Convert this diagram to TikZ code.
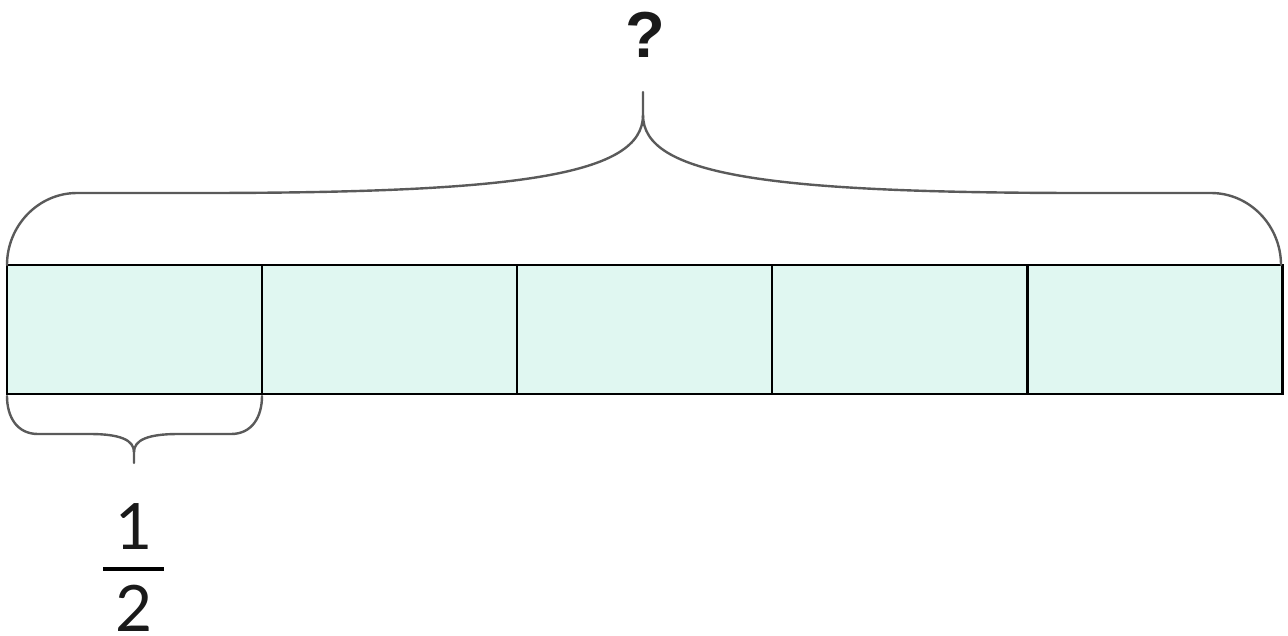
\documentclass[tikz,border=0pt]{standalone}
\usepackage{fontspec}
\newfontfamily\numfont{Lato}
\newfontfamily\qfont{Liberation Sans}
\definecolor{cellfill}{HTML}{E0F7F1}
\definecolor{bracegray}{HTML}{5A5A5A}
\definecolor{textdark}{HTML}{1A1A1A}
\begin{document}
\begin{tikzpicture}[x=1pt,y=-1pt,
  cell/.style={draw=black,line width=2.8pt,fill=cellfill,minimum width=255pt,minimum height=129pt,inner sep=0pt,outer sep=0pt},
  bracepath/.style={draw=bracegray,line width=2.4pt},
  numlabel/.style={font=\numfont\fontsize{64}{64}\selectfont,text=textdark,inner sep=0pt,anchor=base},
  qlabel/.style={font=\qfont\bfseries\fontsize{65}{65}\selectfont,text=textdark,inner sep=0pt}]
\useasboundingbox (0,0) rectangle (1288,635);
% cells
\node[cell,anchor=north west] (c1) at (7,265) {};
\node[cell,anchor=north west] (c2) at (262,265) {};
\node[cell,anchor=north west] (c3) at (517,265) {};
\node[cell,anchor=north west] (c4) at (772,265) {};
\node[cell,anchor=north west] (c5) at (1027.5,265) {};
% top brace
\draw[bracepath,line cap=round]
  (7,265) .. controls (7,226) and (38,193) .. (77,193)
  -- (200,193)
  .. controls (520,193) and (643,175) .. (643,115)
  -- (643,92);
\draw[bracepath,line cap=round]
  (1281,265) .. controls (1281,226) and (1250,193) .. (1211,193)
  -- (1086,193)
  .. controls (766,193) and (643,175) .. (643,115);
% bottom brace
\draw[bracepath,line cap=round]
  (7,396) .. controls (7,417) and (17,434) .. (38,434)
  -- (90,434)
  .. controls (120,434) and (134,440) .. (134,452)
  -- (134,463);
\draw[bracepath,line cap=round]
  (262,396) .. controls (262,417) and (252,434) .. (231,434)
  -- (178,434)
  .. controls (148,434) and (134,440) .. (134,452);
% labels
\node[qlabel] (q) at (645,35) {?};
\node[numlabel] (one) at (134,549) {1};
\node[numlabel] (two) at (134,631) {2};
\coordinate (barl) at (103,569);
\coordinate (barr) at (164,569);
\draw[line width=4.5pt,draw=black] (barl) -- (barr);
\end{tikzpicture}
\end{document}
